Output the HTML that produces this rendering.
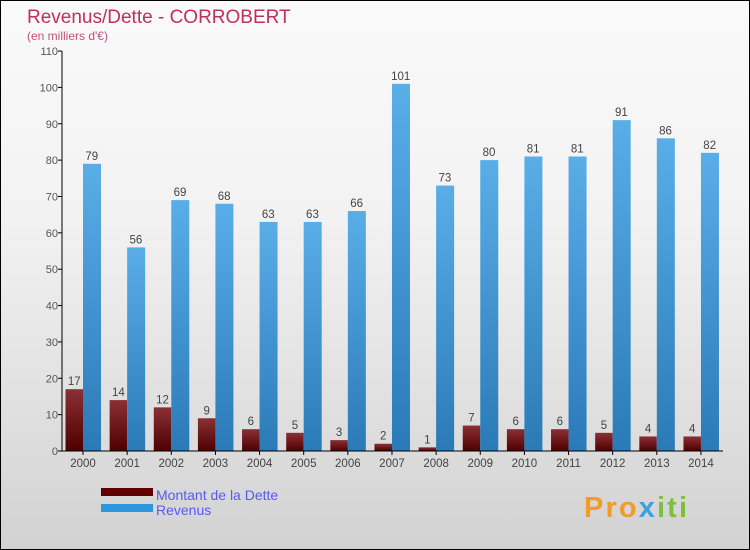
<!DOCTYPE html>
<html><head><meta charset="utf-8"><style>
body{margin:0;}
#c{width:748px;height:548px;border:1px solid #000;background:linear-gradient(#fafafa,#f2f2f2 40%,#d2d2d2);position:relative;overflow:hidden;font-family:"Liberation Sans",sans-serif;}
</style></head><body>
<div id="c">
<svg id="s" width="748" height="548" xmlns="http://www.w3.org/2000/svg" style="position:absolute;left:0;top:0">
<defs>
<linearGradient id="gd" x1="0" y1="0" x2="0" y2="1"><stop offset="0" stop-color="#8a3036"/><stop offset="1" stop-color="#4e0000"/></linearGradient>
<linearGradient id="gr" x1="0" y1="0" x2="0" y2="1"><stop offset="0" stop-color="#5aaee8"/><stop offset="1" stop-color="#2a7ab8"/></linearGradient>
</defs>
<text x="26" y="22" font-size="19" fill="#c0305e">Revenus/Dette - CORROBERT</text>
<text x="26" y="39" font-size="12" fill="#c0507e">(en milliers d'€)</text>
<g id="plot"></g>
<rect x="100" y="487" width="52" height="8" fill="#600000"/>
<rect x="100" y="503" width="52" height="8" fill="#2e96dc"/>
<text x="155" y="499" font-size="14" fill="#5a5af0">Montant de la Dette</text>
<text x="155" y="514" font-size="14" fill="#5a5af0">Revenus</text>
<text x="583" y="516" font-size="29" font-weight="bold" fill="#f39a2a" textLength="103">Pro<tspan fill="#3aa0e0">x</tspan><tspan fill="#7cc040">iti</tspan></text>
</svg>
</div>
<script>
const years=["2000","2001","2002","2003","2004","2005","2006","2007","2008","2009","2010","2011","2012","2013","2014"];
const dette=[17,14,12,9,6,5,3,2,1,7,6,6,5,4,4];
const revenus=[79,56,69,68,63,63,66,101,73,80,81,81,91,86,82];
const yTicks=[0,10,20,30,40,50,60,70,80,90,100,110];
const NS="http://www.w3.org/2000/svg";
const g=document.getElementById('plot');
const y0=450,ppu=3.636,x0=61,step=44.14,c0=82,bw=17.5;
const Y=v=>y0-v*ppu;
const X=i=>c0+i*step;
function mk(t,a){const e=document.createElementNS(NS,t);for(const k in a)e.setAttribute(k,a[k]);g.appendChild(e);return e;}
yTicks.forEach(v=>{
 const l=mk('line',{x1:x0-4,x2:x0,y1:Y(v),y2:Y(v),stroke:'#000'});
 
 
 const t=mk('text',{x:x0-4,y:Y(v)+4,'font-size':11,fill:'#555','text-anchor':'end'});t.textContent=v;
 
 
});
years.forEach((yr,i)=>{
 const cx=X(i);
 const d=mk('rect',{x:cx-bw,y:Y(dette[i]),width:bw,height:dette[i]*ppu,fill:'url(#gd)'});
 
 
 const r=mk('rect',{x:cx,y:Y(revenus[i]),width:bw+0.5,height:revenus[i]*ppu,fill:'url(#gr)'});
 
 
 const td=mk('text',{x:cx-bw/2,y:Y(dette[i])-4,'font-size':11.5,fill:'#444','text-anchor':'middle'});td.textContent=dette[i];
 
 
 const tr=mk('text',{x:cx+bw/2,y:Y(revenus[i])-4,'font-size':11.5,fill:'#444','text-anchor':'middle'});tr.textContent=revenus[i];
 
 
 const tk=mk('line',{x1:cx,x2:cx,y1:y0,y2:y0+4,stroke:'#000'});
 
 
 const tx=mk('text',{x:cx,y:y0+16,'font-size':11.5,fill:'#444','text-anchor':'middle'});tx.textContent=yr;
 
 
});
const ya=mk('line',{x1:x0,x2:x0,y1:Y(110),y2:y0,stroke:'#000'});


const xa=mk('line',{x1:x0,x2:722,y1:y0,y2:y0,stroke:'#000'});


</script>
</body></html>
